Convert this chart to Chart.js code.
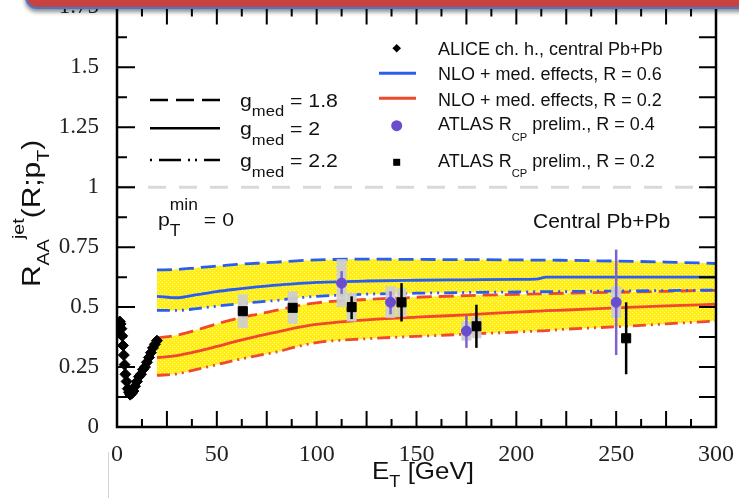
<!DOCTYPE html>
<html>
<head>
<meta charset="utf-8">
<script src="https://cdn.jsdelivr.net/npm/chart.js@4.4.0/dist/chart.umd.min.js"></script>
<style>
  html, body { margin: 0; padding: 0; background: #fff; }
  #wrap { position: relative; width: 739px; height: 498px; overflow: hidden; }
  #banner {
    position: absolute; left: 25px; top: -30px; width: 760px; height: 35px;
    background: #c8433f; border: 2px solid #4677cc; border-radius: 0 0 0 12px;
    box-shadow: 0 3px 4px rgba(0, 0, 0, 0.45);
  }
  #vline { position: absolute; left: 108px; top: 452px; width: 1px; height: 46px; background: #d4d4d4; }
</style>
</head>
<body>
<div id="wrap">
  <canvas id="chart" width="739" height="498"></canvas>
  <div id="vline"></div>
  <div id="banner"></div>
</div>
<script>
// axis ticks
const xTicks = [0, 50, 100, 150, 200, 250, 300];
const xTickLabels = ["0", "50", "100", "150", "200", "250", "300"];
const yTicks = [0, 0.25, 0.5, 0.75, 1, 1.25, 1.5, 1.75];
const yTickLabels = ["0", "0.25", "0.5", "0.75", "1", "1.25", "1.5", "1.75"];

// NLO + medium effects curves (E_T in GeV)
const bandX = [20, 30, 40, 50, 60, 70, 80, 90, 100, 125, 150, 175, 200, 210, 215, 225, 250, 275, 300];
// R = 0.6 (blue)
const blueG18 = [0.655, 0.657, 0.664, 0.671, 0.678, 0.683, 0.688, 0.693, 0.697, 0.700, 0.699, 0.698, 0.697, 0.696, 0.696, 0.695, 0.692, 0.688, 0.682];
const blueG20 = [0.545, 0.539, 0.552, 0.565, 0.575, 0.584, 0.592, 0.598, 0.603, 0.609, 0.612, 0.614, 0.616, 0.617, 0.625, 0.625, 0.625, 0.625, 0.625];
const blueG22 = [0.486, 0.486, 0.494, 0.504, 0.513, 0.521, 0.528, 0.538, 0.545, 0.554, 0.558, 0.561, 0.563, 0.564, 0.564, 0.565, 0.567, 0.569, 0.571];
// R = 0.2 (red)
const redG18 = [0.372, 0.383, 0.405, 0.430, 0.452, 0.470, 0.487, 0.505, 0.518, 0.532, 0.541, 0.548, 0.553, 0.555, 0.556, 0.558, 0.562, 0.566, 0.570];
const redG20 = [0.289, 0.298, 0.315, 0.336, 0.358, 0.378, 0.396, 0.414, 0.428, 0.447, 0.458, 0.468, 0.479, 0.483, 0.485, 0.488, 0.497, 0.505, 0.512];
const redG22 = [0.215, 0.222, 0.240, 0.260, 0.280, 0.297, 0.313, 0.335, 0.352, 0.368, 0.378, 0.387, 0.396, 0.400, 0.402, 0.408, 0.418, 0.430, 0.442];

// ALICE charged hadrons
const aliceX = [0.7, 1.0, 1.4, 1.8, 2.2, 2.6, 3.0, 3.4, 3.8, 4.2, 4.8, 5.4, 6.0, 6.6, 7.4, 8.2, 9.0, 10, 11, 12, 13, 14, 15, 16, 17, 18, 19, 20];
const aliceY = [0.40, 0.42, 0.44, 0.43, 0.41, 0.38, 0.34, 0.30, 0.26, 0.22, 0.19, 0.16, 0.145, 0.135, 0.14, 0.15, 0.17, 0.19, 0.21, 0.22, 0.24, 0.25, 0.27, 0.29, 0.31, 0.33, 0.345, 0.36];

// ATLAS R_CP, R = 0.4
const atlas04X = [112.5, 137, 175, 250];
const atlas04Y = [0.60, 0.52, 0.40, 0.52];
const atlas04StatLo = [0.555, 0.47, 0.33, 0.30];
const atlas04StatHi = [0.65, 0.566, 0.463, 0.74];
const atlas04SysLo = [0.50, 0.455, 0.36, 0.455];
const atlas04SysHi = [0.70, 0.587, 0.44, 0.587];

// ATLAS R_CP, R = 0.2
const atlas02X = [63, 88, 117.5, 142.5, 180, 255];
const atlas02Y = [0.483, 0.497, 0.50, 0.52, 0.42, 0.37];
const atlas02StatLo = [0.47, 0.485, 0.45, 0.44, 0.33, 0.22];
const atlas02StatHi = [0.50, 0.51, 0.545, 0.60, 0.51, 0.52];
const atlas02SysLo = [0.413, 0.43, 0.44, 0.46, 0.37, 0.35];
const atlas02SysHi = [0.553, 0.566, 0.56, 0.58, 0.46, 0.39];

// unity reference
const unityX = [0, 300];
const unityY = [1, 1];

const BLUE = "#2a5ef0";
const RED = "#f0492e";
const PURPLE = "#6a4ccf";
const SANS = "'Liberation Sans', Arial, sans-serif";
const SERIF = "'Liberation Serif', 'Times New Roman', serif";

const pts = (xs, ys) => xs.map((x, i) => ({ x: x, y: ys[i] }));

const canvas = document.getElementById("chart");
const ctx = canvas.getContext("2d");

// yellow stippled band fill
const pc = document.createElement("canvas");
pc.width = 4;
pc.height = 4;
const pctx = pc.getContext("2d");
pctx.fillStyle = "#ffee10";
pctx.fillRect(0, 0, 4, 4);
pctx.fillStyle = "#fffbc8";
pctx.fillRect(0, 0, 1, 1);
pctx.fillRect(2, 2, 1, 1);
const yellow = ctx.createPattern(pc, "repeat");

const DASH = [15, 7];
const DASHDOT = [13, 5, 2, 5, 2, 5];

// text with sub/superscripts, y = baseline
function drawRich(c, parts, x, y, size, o) {
  o = o || {};
  const fam = o.family || SANS;
  const small = size * (o.small || 0.72);
  const subOff = size * (o.subOff || 0.3);
  const supOff = size * (o.supOff || 0.5);
  let w = 0;
  parts.forEach((p) => {
    if (typeof p === "string") {
      c.font = size + "px " + fam;
      w += c.measureText(p).width;
    } else {
      c.font = small + "px " + fam;
      w += Math.max(p.sub ? c.measureText(p.sub).width : 0, p.sup ? c.measureText(p.sup).width : 0);
    }
  });
  c.save();
  c.translate(x, y);
  if (o.rotate) c.rotate(o.rotate);
  c.scale(o.stretch || 1, 1);
  c.textAlign = "left";
  c.textBaseline = "alphabetic";
  c.fillStyle = o.color || "#111";
  let cx = o.align === "center" ? -w / 2 : 0;
  parts.forEach((p) => {
    if (typeof p === "string") {
      c.font = size + "px " + fam;
      c.fillText(p, cx, 0);
      cx += c.measureText(p).width;
    } else {
      c.font = small + "px " + fam;
      let ww = 0;
      if (p.sub) {
        c.fillText(p.sub, cx, subOff);
        ww = c.measureText(p.sub).width;
      }
      if (p.sup) {
        c.fillText(p.sup, cx, -supOff);
        ww = Math.max(ww, c.measureText(p.sup).width);
      }
      cx += ww;
    }
  });
  c.restore();
}

// error bars and systematic boxes for the ATLAS points
const errorSets = {
  1: { xs: atlas04X, lo: atlas04StatLo, hi: atlas04StatHi, sLo: atlas04SysLo, sHi: atlas04SysHi, color: "#7d62d6" },
  2: { xs: atlas02X, lo: atlas02StatLo, hi: atlas02StatHi, sLo: atlas02SysLo, sHi: atlas02SysHi, color: "#000" },
};

const errorBars = {
  id: "errorBars",
  beforeDatasetDraw(chart, args) {
    const set = errorSets[args.index];
    if (!set) return;
    const c = chart.ctx;
    const x = chart.scales.x;
    const y = chart.scales.y;
    c.save();
    c.fillStyle = "rgba(205,205,205,0.95)";
    set.xs.forEach((v, i) => {
      const px = x.getPixelForValue(v);
      const t = y.getPixelForValue(set.sHi[i]);
      const b = y.getPixelForValue(set.sLo[i]);
      c.fillRect(px - 5, t, 10, b - t);
    });
    c.strokeStyle = set.color;
    c.lineWidth = 2.5;
    set.xs.forEach((v, i) => {
      const px = x.getPixelForValue(v);
      c.beginPath();
      c.moveTo(px, y.getPixelForValue(set.hi[i]));
      c.lineTo(px, y.getPixelForValue(set.lo[i]));
      c.stroke();
    });
    c.restore();
  },
};

// frame with inward ticks on all four sides, legend and titles
const frame = {
  id: "frame",
  afterDatasetsDraw(chart) {
    const c = chart.ctx;
    const a = chart.chartArea;
    const x = chart.scales.x;
    const y = chart.scales.y;
    c.save();
    c.strokeStyle = "#000";
    c.lineWidth = 2.5;
    c.strokeRect(a.left, a.top, a.right - a.left, a.bottom - a.top);
    c.lineWidth = 2;
    c.beginPath();
    for (let e = 12.5; e < 300; e += 12.5) {
      const px = x.getPixelForValue(e);
      const major = e % 25 === 0;
      c.moveTo(px, a.bottom);
      c.lineTo(px, a.bottom - (major ? 16 : 8));
      c.moveTo(px, a.top);
      c.lineTo(px, a.top + (major ? 17 : 9));
    }
    for (let r = 0.125; r < 1.75; r += 0.125) {
      const py = y.getPixelForValue(r);
      const major = Math.abs(r / 0.25 - Math.round(r / 0.25)) < 1e-6;
      c.moveTo(a.left, py);
      c.lineTo(a.left + (major ? 18 : 10), py);
      c.moveTo(a.right, py);
      c.lineTo(a.right - 17, py);
    }
    c.stroke();
    c.restore();
  },
  afterDraw(chart) {
    const c = chart.ctx;
    c.save();
    // left legend: coupling values
    const rows = [
      { dash: [18, 8], y: 100, label: "1.8", base: 106.7 },
      { dash: [], y: 128.3, label: "2", base: 135 },
      { dash: [22, 7, 2, 5, 2, 7], off: 36, y: 160, label: "2.2", base: 167 },
    ];
    rows.forEach((r) => {
      c.strokeStyle = "#000";
      c.lineWidth = 2.5;
      c.setLineDash(r.dash);
      c.lineDashOffset = r.off || 0;
      c.beginPath();
      c.moveTo(150, r.y);
      c.lineTo(220, r.y);
      c.stroke();
      drawRich(c, ["g", { sub: "med" }, " = " + r.label], 240, r.base, 19, { stretch: 1.12, small: 0.78, subOff: 0.5 });
    });
    c.setLineDash([]);

    // right legend
    c.fillStyle = "#000";
    c.beginPath();
    c.moveTo(396.7, 44);
    c.lineTo(401, 48.3);
    c.lineTo(396.7, 52.6);
    c.lineTo(392.4, 48.3);
    c.closePath();
    c.fill();
    c.lineWidth = 3;
    c.strokeStyle = BLUE;
    c.beginPath();
    c.moveTo(379, 73.3);
    c.lineTo(416, 73.3);
    c.stroke();
    c.strokeStyle = RED;
    c.beginPath();
    c.moveTo(379, 98.3);
    c.lineTo(416, 98.3);
    c.stroke();
    c.fillStyle = PURPLE;
    c.beginPath();
    c.arc(396.7, 125.7, 5.5, 0, Math.PI * 2);
    c.fill();
    c.fillStyle = "#000";
    c.fillRect(393.2, 158.8, 7, 7);

    const lo = { small: 0.62, subOff: 0.6 };
    drawRich(c, ["ALICE ch. h., central Pb+Pb"], 438, 54.7, 18, lo);
    drawRich(c, ["NLO + med. effects, R = 0.6"], 438, 80, 18, lo);
    drawRich(c, ["NLO + med. effects, R = 0.2"], 438, 106.4, 18, lo);
    drawRich(c, ["ATLAS R", { sub: "CP" }, " prelim., R = 0.4"], 438, 129.8, 18, lo);
    drawRich(c, ["ATLAS R", { sub: "CP" }, " prelim., R = 0.2"], 438, 166.5, 18, lo);

    // annotations
    drawRich(c, ["Central Pb+Pb"], 533, 227.5, 21);
    drawRich(c, ["p", { sub: "T", sup: "min" }, " = 0"], 158, 226, 19, { stretch: 1.12, small: 0.82, subOff: 0.5, supOff: 0.85 });

    // axis titles
    drawRich(c, ["E", { sub: "T" }, " [GeV]"], 423, 479, 24, { align: "center", stretch: 1.08, small: 0.7, subOff: 0.32 });
    drawRich(c, ["R", { sub: "AA" }, { sup: "jet" }, "(R;p", { sub: "T" }, ")"], 40, 287, 26,
      { rotate: -Math.PI / 2, stretch: 1.15, small: 0.66, subOff: 0.36, supOff: 0.62 });
    c.restore();
  },
};

const lineSet = (label, xs, ys, color, dash, fill) => ({
  label: label,
  data: pts(xs, ys),
  borderColor: color,
  borderWidth: 2.8,
  borderDash: dash,
  pointRadius: 0,
  cubicInterpolationMode: "monotone",
  fill: fill || false,
  backgroundColor: yellow,
});

new Chart(ctx, {
  type: "line",
  data: {
    datasets: [
      {
        label: "ALICE ch. h., central Pb+Pb",
        data: pts(aliceX, aliceY),
        showLine: false,
        pointStyle: "rectRot",
        pointRadius: 5.5,
        backgroundColor: "#000",
        borderColor: "#000",
        borderWidth: 1,
      },
      {
        label: "ATLAS R_CP prelim., R = 0.4",
        data: pts(atlas04X, atlas04Y),
        showLine: false,
        pointStyle: "circle",
        pointRadius: 5,
        backgroundColor: PURPLE,
        borderColor: PURPLE,
        borderWidth: 1,
      },
      {
        label: "ATLAS R_CP prelim., R = 0.2",
        data: pts(atlas02X, atlas02Y),
        showLine: false,
        pointStyle: "rect",
        pointRadius: 6.4,
        backgroundColor: "#000",
        borderColor: "#000",
        borderWidth: 1,
      },
      lineSet("R = 0.6, g = 1.8", bandX, blueG18, BLUE, DASH, "+2"),
      lineSet("R = 0.6, g = 2", bandX, blueG20, BLUE, []),
      lineSet("R = 0.6, g = 2.2", bandX, blueG22, BLUE, DASHDOT),
      lineSet("R = 0.2, g = 1.8", bandX, redG18, RED, DASH, "+2"),
      lineSet("R = 0.2, g = 2", bandX, redG20, RED, []),
      lineSet("R = 0.2, g = 2.2", bandX, redG22, RED, DASHDOT),
      {
        label: "unity",
        data: pts(unityX, unityY),
        borderColor: "#d9d9d9",
        borderWidth: 3,
        borderDash: [18, 13],
        pointRadius: 0,
        fill: false,
      },
    ],
  },
  options: {
    responsive: false,
    animation: false,
    layout: { padding: { left: 0, right: 23, top: 3.5, bottom: 0 } },
    plugins: {
      legend: { display: false },
      tooltip: { enabled: false },
      filler: { drawTime: "beforeDatasetsDraw" },
    },
    scales: {
      x: {
        type: "linear",
        min: 0,
        max: 300,
        grid: { display: false },
        border: { display: false },
        afterBuildTicks: (s) => {
          s.ticks = xTicks.map((v) => ({ value: v }));
        },
        afterFit: (s) => {
          s.height = 71;
          s.paddingLeft = 0;
          s.paddingRight = 0;
        },
        ticks: {
          font: { family: SERIF, size: 24 },
          color: "#222",
          padding: 5,
          maxRotation: 0,
          autoSkip: false,
          callback: (v, i) => xTickLabels[i],
        },
      },
      y: {
        min: 0,
        max: 1.75,
        grid: { display: false },
        border: { display: false },
        afterBuildTicks: (s) => {
          s.ticks = yTicks.map((v) => ({ value: v }));
        },
        afterFit: (s) => {
          s.width = 117;
          s.paddingTop = 0;
          s.paddingBottom = 0;
        },
        ticks: {
          font: { family: SERIF, size: 23 },
          color: "#222",
          padding: 10,
          autoSkip: false,
          callback: (v, i) => yTickLabels[i],
        },
      },
    },
  },
  plugins: [errorBars, frame],
});
</script>
</body>
</html>
